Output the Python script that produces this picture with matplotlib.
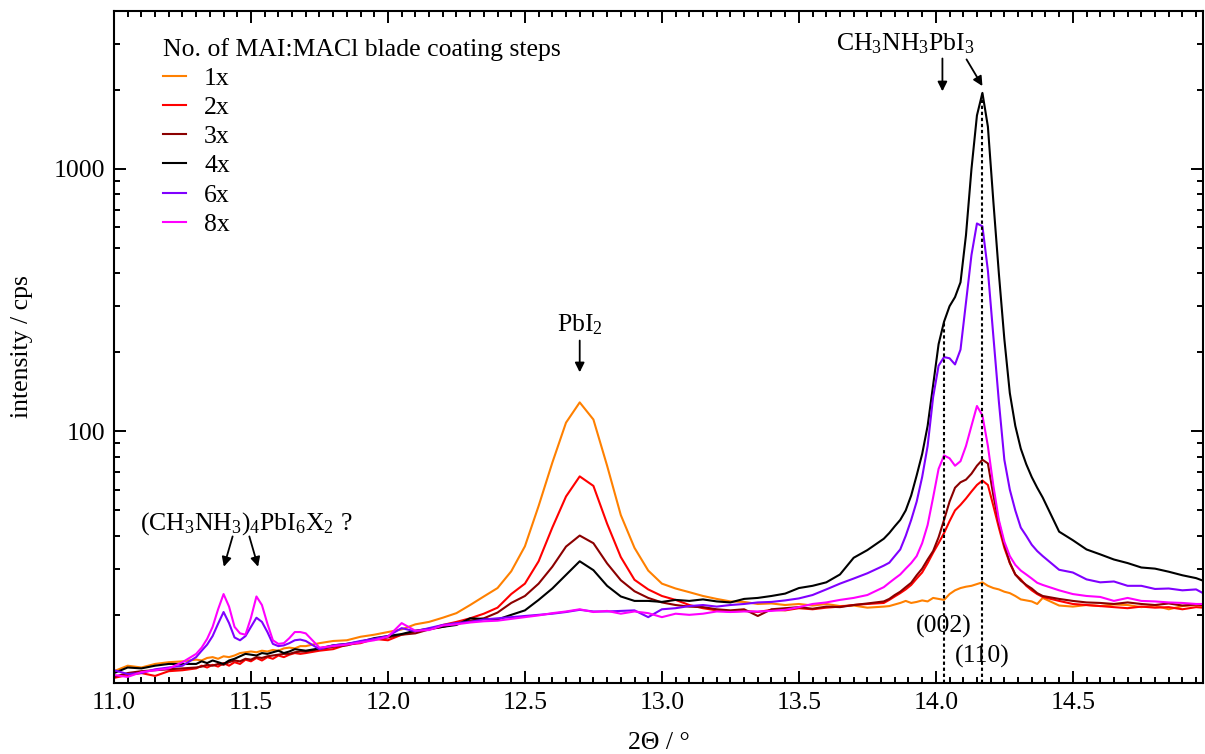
import matplotlib
matplotlib.use("Agg")
import matplotlib.pyplot as plt
import numpy as np
from matplotlib.ticker import MultipleLocator, LogLocator, NullFormatter, FuncFormatter

plt.rcParams['font.family'] = ['Liberation Serif', 'DejaVu Serif']
plt.rcParams['font.size'] = 18.5
plt.rcParams['mathtext.fontset'] = 'custom'
plt.rcParams['mathtext.rm'] = 'Liberation Serif'
plt.rcParams['mathtext.it'] = 'Liberation Serif:italic'

# 2theta grid: finer steps around the small peaks and the perovskite peak
two_theta = np.round(np.concatenate([
    np.arange(11.00, 11.26, 0.05),
    np.arange(11.30, 11.69, 0.02),
    np.arange(11.70, 13.76, 0.05),
    np.arange(13.81, 14.40, 0.02),
    np.arange(14.45, 14.96, 0.05),
    [14.975]]), 3)

steps = ['1x', '2x', '3x', '4x', '6x', '8x']
colors = ['#FF8000', '#FF0000', '#8B0000', '#000000', '#8000FF', '#FF00FF']

cps_1x = [12.2, 12.8, 12.6, 13.0, 13.2, 13.3,
          13.5, 13.4, 13.7, 13.8, 13.6, 13.9, 13.8, 14.0, 14.3, 14.4, 14.5, 14.4, 14.6, 14.5, 14.7, 14.6, 14.9, 15.0, 14.9, 15.2,
          15.2, 15.6, 15.9, 16.0, 16.5, 16.8, 17.2, 17.6, 18.4, 18.8, 19.5, 20.3, 21.8, 23.5, 25.3, 29.3, 36.5, 52, 76, 108,
          129, 111, 74, 48, 36, 29.5, 26.3, 25.2, 24.4, 23.6, 23.0, 22.5, 22.4, 22.0, 22.1, 21.8, 22.0, 21.7, 22.0, 21.6, 21.7, 21.3,
          21.5, 21.6, 21.9, 22.2, 22.6, 22.2, 22.4, 22.7, 22.5, 23.2, 23.0, 22.8, 24.0, 24.8, 25.3, 25.6, 25.8, 26.2, 26.6, 25.8,
          25.3, 25.0, 24.5, 24.2, 23.6, 22.9, 22.7, 22.5, 22.0, 23.2,
          21.7, 21.5, 21.8, 21.6, 21.9, 21.8, 21.4, 21.7, 21.0, 21.6, 21.8, 21.6]
cps_2x = [11.5, 11.8, 12.0, 11.7, 12.2, 12.3,
          12.5, 12.8, 12.6, 12.9, 12.7, 13.1, 12.8, 13.2, 13.0, 13.5, 13.3, 13.7, 13.4, 13.8, 13.6, 14.0, 13.8, 14.1, 14.3, 14.2,
          14.3, 14.6, 14.8, 15.4, 15.6, 16.2, 16.0, 16.8, 17.3, 17.6, 18.3, 18.8, 19.4, 20.2, 21.3, 24.0, 26.3, 32, 43, 56.5,
          67.4, 62, 44.5, 33.2, 27.2, 25.0, 23.6, 22.8, 21.8, 21.2, 20.8, 20.6, 20.7, 20.5, 20.9, 20.8, 21.2, 21.0, 21.3, 21.5, 21.8, 22.0,
          22.2, 22.8, 23.5, 24.2, 25.0, 26.0, 27.5, 29.0, 31.5, 34.5, 37.5, 41.0, 45.5, 50.0, 52.5, 55.5, 59.0, 62.5, 65.0, 62.5,
          52.0, 43.0, 36.0, 31.5, 28.5, 27.3, 25.8, 24.8, 24.0, 23.4,
          22.6, 22.0, 21.8, 21.6, 21.4, 21.2, 21.5, 21.3, 21.4, 21.0, 21.4, 21.3]
cps_3x = [11.6, 12.0, 12.2, 12.3, 12.4, 12.5,
          12.6, 12.7, 12.9, 12.8, 13.0, 12.9, 13.2, 13.4, 13.3, 13.6, 13.5, 13.8, 13.7, 13.9, 14.0, 14.1, 14.2, 14.2, 14.4, 14.5,
          14.5, 14.8, 15.1, 15.3, 15.8, 16.1, 16.4, 16.8, 17.0, 17.6, 18.0, 18.5, 19.0, 19.4, 20.4, 22.2, 23.6, 26.3, 30.5, 36.4,
          40.1, 37.5, 31.4, 27.1, 24.6, 23.2, 22.3, 21.8, 21.5, 21.4, 21.0, 20.8, 21.0, 19.8, 21.0, 21.2, 21.4, 21.1, 21.5, 21.4, 21.8, 22.1,
          22.5, 23.0, 23.8, 24.5, 25.5, 26.5, 28.3, 30.0, 32.5, 35.0, 39.5, 46.0, 54.0, 61.0, 64.0, 65.5, 69.0, 74.0, 78.0, 75.5,
          57.0, 45.0, 37.0, 31.6, 28.5, 27.0, 26.0, 25.2, 24.2, 23.6,
          23.0, 22.6, 22.3, 22.2, 22.0, 22.3, 22.0, 21.8, 22.1, 21.7, 21.9, 21.8]
cps_4x = [12.0, 12.6, 12.5, 12.8, 13.0, 13.0,
          13.0, 13.3, 13.1, 13.4, 13.2, 13.0, 13.4, 13.6, 13.9, 14.2, 14.1, 14.0, 14.3, 14.2, 14.4, 14.6, 14.3, 14.5, 14.8, 14.7,
          14.6, 14.9, 15.3, 15.5, 15.8, 16.3, 16.6, 16.9, 17.4, 17.7, 18.0, 18.3, 19.4, 19.3, 19.2, 20.0, 20.8, 22.8, 25.2, 28.4,
          32.0, 29.6, 25.8, 23.5, 22.6, 22.6, 22.4, 22.8, 22.6, 22.9, 22.5, 22.3, 23.0, 23.2, 23.6, 24.1, 25.3, 25.8, 26.6, 28.5, 33.0, 35.3,
          39, 41, 43.5, 46, 50, 57, 68, 82, 105, 150, 215, 262, 300, 325, 370, 560, 1000, 1600, 1950, 1450,
          750, 400, 225, 140, 105, 86, 75, 67, 61, 56,
          41.5, 38.5, 35.5, 34.0, 32.5, 31.5, 30.3, 30.0, 29.2, 28.3, 27.6, 27.0]
cps_6x = [12.3, 11.9, 12.0, 12.4, 12.6, 12.8,
          13.8, 14.6, 15.4, 16.6, 18.5, 20.5, 18.6, 16.4, 16.0, 16.6, 18.0, 19.5, 18.8, 17.2, 15.5, 15.2, 15.3, 15.6, 16.0, 16.1,
          15.9, 14.8, 15.3, 15.5, 15.9, 16.2, 16.6, 17.8, 17.3, 17.8, 18.3, 18.6, 18.8, 19.2, 19.4, 19.6, 19.8, 20.0, 20.2, 20.5,
          20.9, 20.6, 20.6, 20.7, 20.8, 19.6, 21.0, 21.2, 21.6, 21.8, 21.5, 21.8, 22.0, 22.3, 22.4, 22.7, 23.1, 23.8, 25.0, 26.3, 27.5, 28.8,
          30.8, 31.6, 33.5, 35.5, 40, 46, 54, 67, 88, 135, 178, 192, 190, 180, 205, 310, 470, 620, 605, 410,
          230, 130, 78, 60, 50, 43, 40, 37, 35, 33.5,
          29.7, 29.0, 27.3, 26.6, 26.8, 25.8, 25.8, 25.1, 25.2, 24.8, 25.0, 24.2]
cps_8x = [11.8, 11.6, 12.1, 12.3, 12.5, 13.2,
          14.2, 15.0, 16.2, 18.0, 21.0, 24.0, 21.5, 18.0, 17.0, 16.8, 19.5, 23.5, 21.8, 18.5, 16.0, 15.5, 15.6, 16.3, 17.2, 17.2,
          17.0, 15.0, 15.2, 15.4, 15.7, 16.0, 16.5, 18.6, 17.4, 17.5, 18.2, 18.4, 18.7, 18.9, 19.0, 19.3, 19.6, 19.9, 20.3, 20.6,
          21.0, 20.5, 20.7, 20.2, 20.6, 20.3, 19.6, 20.2, 20.0, 20.2, 20.6, 20.5, 20.6, 20.6, 20.7, 20.9, 21.4, 22.0, 22.3, 22.8, 23.2, 23.8,
          25.5, 26.5, 27.5, 28.5, 30, 31.5, 33.5, 37.5, 44, 56, 72, 81, 79, 74, 77, 88, 105, 125, 115, 88,
          62, 46, 38, 33.5, 31, 29.5, 28.5, 27.5, 26.5, 26,
          24.8, 24.0, 23.6, 23.4, 22.6, 23.2, 22.6, 22.5, 22.3, 22.2, 22.0, 22.0]

peak_002 = 14.03
peak_110 = 14.17
peak_pbi2 = 12.70

fig = plt.figure(figsize=(12.05, 7.54), dpi=100)
ax = fig.add_axes([0.0946, 0.0942, 0.9037, 0.8912])

for cps, c, lab in zip([cps_1x, cps_2x, cps_3x, cps_4x, cps_6x, cps_8x], colors, steps):
    ax.plot(two_theta, cps, color=c, lw=1.5, label=lab)

ax.set_yscale('log')
ax.set_xlim(11.0, 14.975)
ax.set_ylim(11, 4000)

ax.xaxis.set_major_locator(MultipleLocator(0.5))
ax.xaxis.set_minor_locator(MultipleLocator(0.05))
ax.xaxis.set_major_formatter(FuncFormatter(lambda v, p: f'{v:.1f}'))
ax.yaxis.set_major_locator(LogLocator(base=10, numticks=10))
ax.yaxis.set_minor_locator(LogLocator(base=10, subs=np.arange(2, 10), numticks=10))
ax.yaxis.set_major_formatter(FuncFormatter(lambda v, p: f'{v:.0f}'))
ax.yaxis.set_minor_formatter(NullFormatter())
ax.tick_params(which='both', direction='in', top=True, right=True, width=1.4)
ax.tick_params(which='major', length=8.6, pad=6.5)
ax.tick_params(which='minor', length=4.3)
for s in ax.spines.values():
    s.set_linewidth(1.5)

ax.set_xlabel('2Θ / °')
ax.set_ylabel('intensity / cps')
ax.xaxis.set_label_coords(0.5005, -0.073)
ax.yaxis.set_label_coords(-0.0745, 0.5)

# dotted reflection markers up to the 4x curve
ybot = ax.get_ylim()[0]
for pk in [peak_002, peak_110]:
    ax.vlines(pk, ybot, np.interp(pk, two_theta, cps_4x), colors='black', lw=1.5,
              linestyles=(0, (1.6, 1.3)))
ax.text(peak_002, 17.1, '(002)', ha='center', va='baseline')
ax.text(peak_110, 13.1, '(110)', ha='center', va='baseline')

arrow = dict(arrowstyle='-|>', color='black', lw=1.3, mutation_scale=14, shrinkA=0, shrinkB=0)
ax.text(13.888, 2820, r'CH$_3$NH$_3$PbI$_3$', ha='center', va='baseline')
ax.annotate('', xy=(peak_002 - 0.006, 1977), xytext=(peak_002 - 0.006, 2637), arrowprops=arrow)
ax.annotate('', xy=(peak_110, 2070), xytext=(14.112, 2616), arrowprops=arrow)

ax.text(peak_pbi2, 239.6, r'PbI$_2$', ha='center', va='baseline')
ax.annotate('', xy=(peak_pbi2, 168), xytext=(peak_pbi2, 222), arrowprops=arrow)

ax.text(11.095, 42.3, r'(CH$_3$NH$_3$)$_4$PbI$_6$X$_2$ ?', ha='left', va='baseline')
ax.annotate('', xy=(11.401, 30.5), xytext=(11.433, 39.8), arrowprops=arrow)
ax.annotate('', xy=(11.526, 30.5), xytext=(11.494, 39.8), arrowprops=arrow)

leg = ax.legend(loc='upper left', bbox_to_anchor=(0.045, 0.96), frameon=False,
                title='No. of MAI:MACl blade coating steps', alignment='left',
                handlelength=0.9, handletextpad=0.7, labelspacing=0.24,
                borderpad=0, borderaxespad=0)
leg.get_title().set_fontsize(18.5)

fig.savefig('out.png', dpi=100)
